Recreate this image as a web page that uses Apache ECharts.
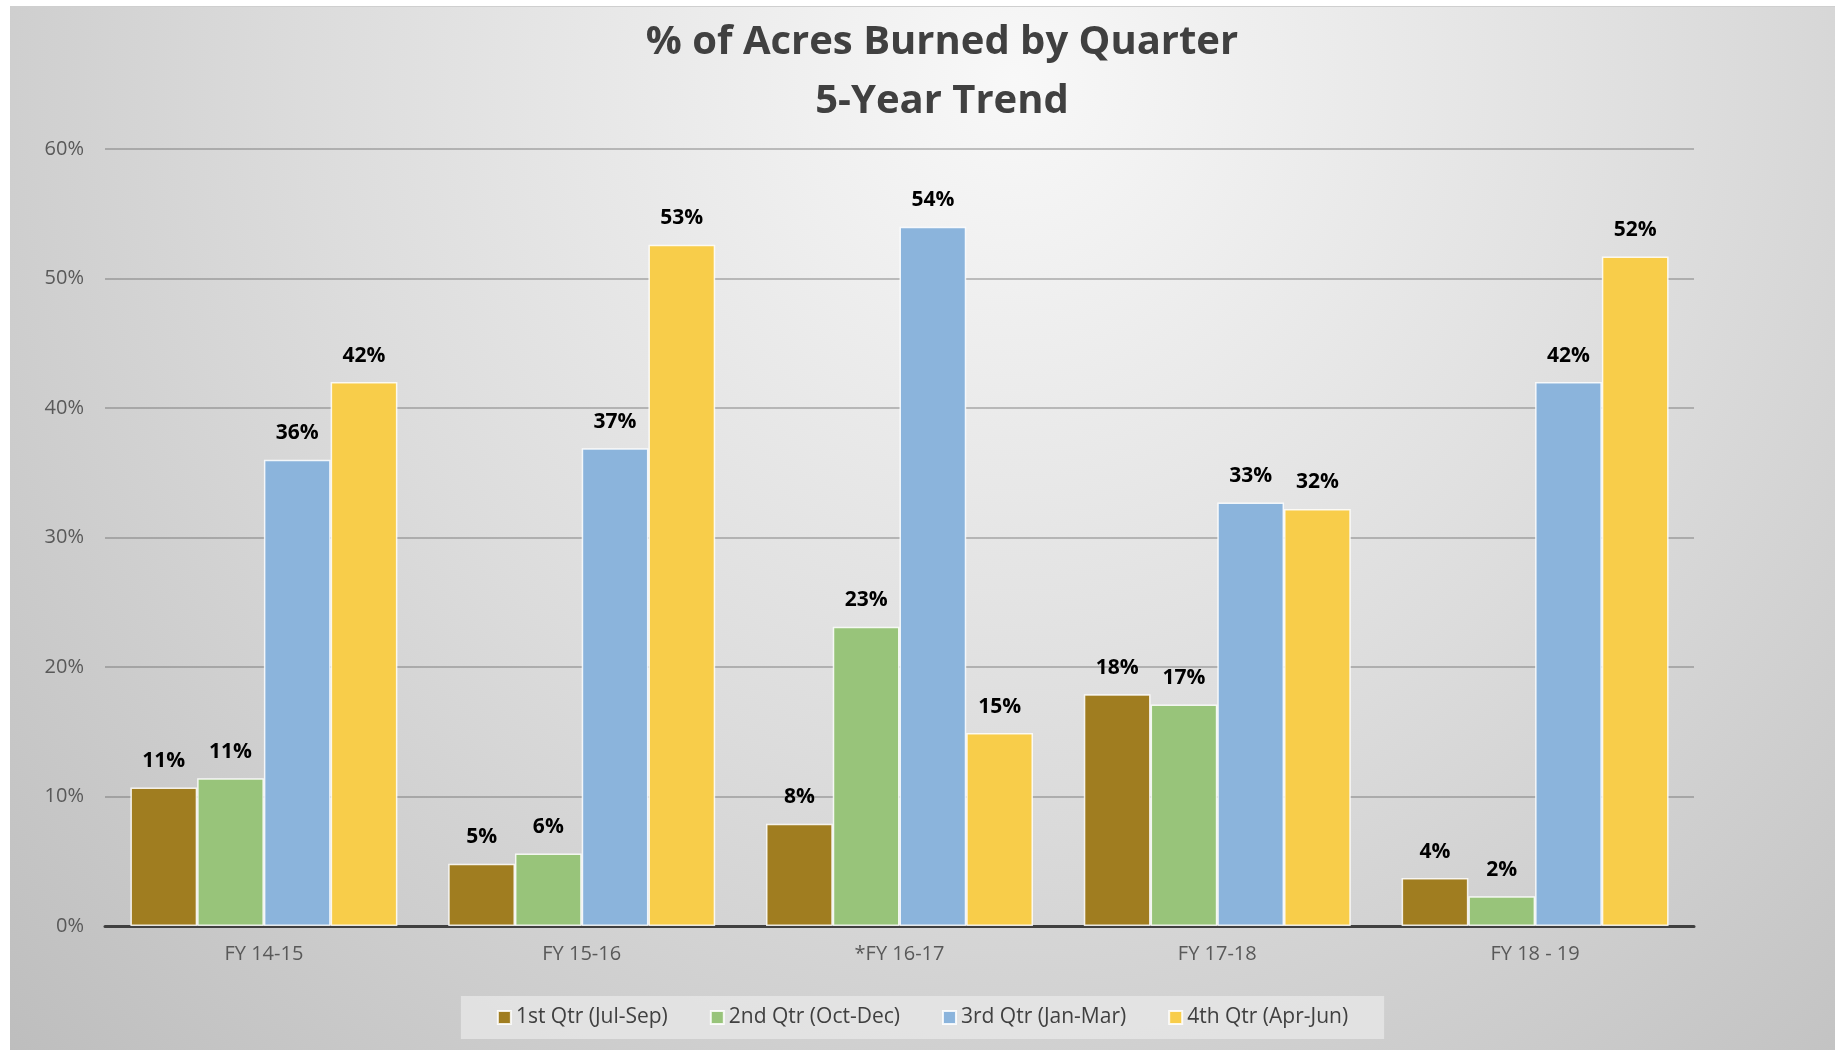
<!DOCTYPE html>
<html>
<head>
<meta charset="utf-8">
<title>% of Acres Burned by Quarter</title>
<script src="https://cdn.jsdelivr.net/npm/echarts@6/dist/echarts.min.js"></script>
<style>
  html, body { margin: 0; padding: 0; background: #ffffff; }
  #chart {
    position: absolute; left: 10px; top: 6px;
    width: 1825px; height: 1044px;
    border-top: 1px solid #cfcfcf;
  }
</style>
</head>
<body>
<div id="chart"></div>
<script>
"use strict";

// ── Datos ───────────────────────────────────────────────────────────────
const YEARS = ["FY 14-15", "FY 15-16", "*FY 16-17", "FY 17-18", "FY 18 - 19"];
const Q1 = [10.7, 4.8, 7.9, 17.9, 3.7];
const Q2 = [11.4, 5.6, 23.1, 17.1, 2.3];
const Q3 = [36.0, 36.9, 54.0, 32.7, 42.0];
const Q4 = [42.0, 52.6, 14.9, 32.2, 51.7];
const SERIES_NAMES = ["1st Qtr (Jul-Sep)", "2nd Qtr (Oct-Dec)", "3rd Qtr (Jan-Mar)", "4th Qtr (Apr-Jun)"];
const Y_TICKS = [0, 10, 20, 30, 40, 50, 60];

// ── Paleta ──────────────────────────────────────────────────────────────
const COLORS = ["#a07d20", "#98c47a", "#8bb4dc", "#f8cd4a"];
const FONT = "'Open Sans', 'Noto Sans', sans-serif";

function makeSeries(name, data, color) {
  return {
    name,
    type: "bar",
    data,
    barGap: "0%",
    barCategoryGap: "16%",
    itemStyle: { color, borderColor: "rgba(255,255,255,0.85)", borderWidth: 1.5 },
    label: {
      show: true, position: "top", distance: 16,
      fontFamily: FONT, fontSize: 21, fontWeight: "bold", color: "#000",
      formatter: p => Math.round(p.value) + "%",
    },
  };
}

const el = document.getElementById("chart");
const chart = echarts.init(el, null, { renderer: "canvas" });

chart.setOption({
  animation: false,
  backgroundColor: new echarts.graphic.RadialGradient(0.55, 0.07, 1.35, [
    { offset: 0, color: "#f8f8f8" },
    { offset: 0.5, color: "#dcdcdc" },
    { offset: 1, color: "#bdbdbd" },
  ]),
  title: {
    text: "% of Acres Burned by Quarter\n5-Year Trend",
    left: 932, top: 6, padding: 0,
    textAlign: "center",
    textStyle: {
      fontFamily: FONT, fontSize: 40, fontWeight: "bold",
      color: "#404040", lineHeight: 59, align: "center",
    },
  },
  legend: {
    data: SERIES_NAMES,
    left: "center", top: 989,
    backgroundColor: "rgba(232,232,232,0.75)",
    padding: [11, 36],
    itemWidth: 13, itemHeight: 13, itemGap: 42,
    icon: "rect",
    textStyle: { fontFamily: FONT, fontSize: 21, color: "#404040" },
  },
  grid: { left: 95, right: 141, top: 142, bottom: 125 },
  xAxis: {
    type: "category",
    data: YEARS,
    axisLine: { lineStyle: { color: "#404040", width: 3 } },
    axisTick: { show: false },
    axisLabel: { fontFamily: FONT, fontSize: 20, color: "#595959", margin: 18 },
  },
  yAxis: {
    type: "value",
    min: Y_TICKS[0], max: Y_TICKS[Y_TICKS.length - 1], interval: 10,
    axisLine: { show: false },
    axisTick: { show: false },
    splitLine: { lineStyle: { color: "rgba(90,90,90,0.35)", width: 2 } },
    axisLabel: {
      fontFamily: FONT, fontSize: 20, color: "#595959", margin: 21,
      formatter: v => v + "%",
    },
  },
  series: [
    makeSeries(SERIES_NAMES[0], Q1, COLORS[0]),
    makeSeries(SERIES_NAMES[1], Q2, COLORS[1]),
    makeSeries(SERIES_NAMES[2], Q3, COLORS[2]),
    makeSeries(SERIES_NAMES[3], Q4, COLORS[3]),
  ],
});

window.addEventListener("resize", () => chart.resize());
</script>
</body>
</html>
